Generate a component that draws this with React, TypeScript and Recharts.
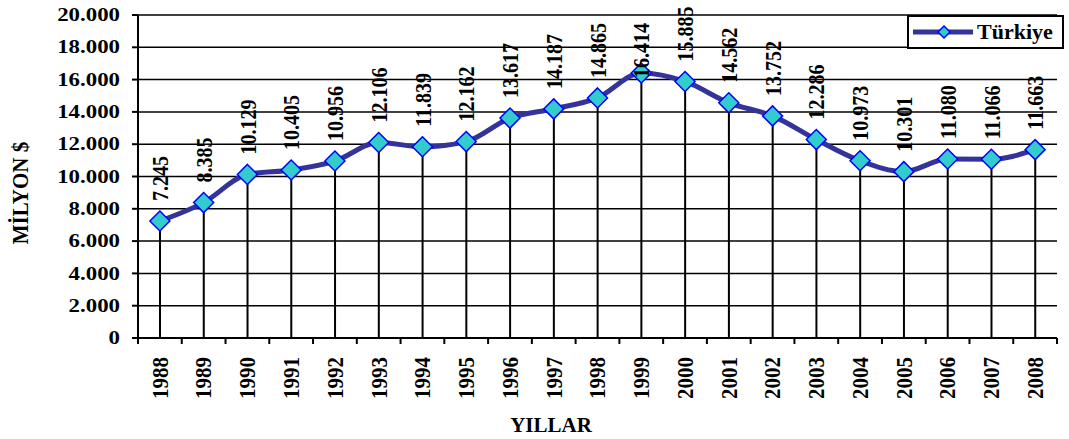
import { ComposedChart, Line, Bar, XAxis, YAxis, CartesianGrid, LabelList } from "recharts";

const years = ["1988", "1989", "1990", "1991", "1992", "1993", "1994", "1995", "1996", "1997", "1998", "1999", "2000", "2001", "2002", "2003", "2004", "2005", "2006", "2007", "2008"];
const turkiye = [7245, 8385, 10129, 10405, 10956, 12106, 11839, 12162, 13617, 14187, 14865, 16414, 15885, 14562, 13752, 12286, 10973, 10301, 11080, 11066, 11663];
const yTicks = [0, 2000, 4000, 6000, 8000, 10000, 12000, 14000, 16000, 18000, 20000];

const data = years.map((year, i) => ({ year, value: turkiye[i] }));

const W = 1069;
const H = 439;
const LEFT = 138;
const RIGHT = 12;
const FONT = "'Liberation Serif', 'Times New Roman', serif";
const NAVY = "#333399";
const BAND = (W - LEFT - RIGHT) / years.length;

const fmt = (v: number) => String(v).replace(/\B(?=(\d{3})+(?!\d))/g, ".");

const Diamond = (props: any) => {
  const { cx, cy } = props;
  if (cx == null || cy == null) return null;
  const r = 10;
  return (
    <polygon
      points={`${cx},${cy - r} ${cx + r},${cy} ${cx},${cy + r} ${cx - r},${cy}`}
      fill="#33CCCC"
      stroke="#0000FF"
      strokeWidth={1.5}
    />
  );
};

// labels that would run off the top are dropped onto the point, like Excel does
const ValueLabel = (props: any) => {
  const { x, y, value } = props;
  const start = y - 20 - 57 < 0 ? y + 5 : y - 20;
  return (
    <text
      transform={`translate(${x},${start}) rotate(-90) scale(1,1.2)`}
      textAnchor="start"
      dominantBaseline="central"
      fontFamily={FONT}
      fontWeight="bold"
      fontSize={20}
      fill="#000"
    >
      {fmt(value)}
    </text>
  );
};

const XTick = (props: any) => {
  const { x, y, payload, index } = props;
  const isLast = index === years.length - 1;
  return (
    <g>
      <line x1={x - BAND / 2} y1={y} x2={x - BAND / 2} y2={y + 6} stroke="#000" strokeWidth={2} />
      {isLast && <line x1={x + BAND / 2} y1={y} x2={x + BAND / 2} y2={y + 6} stroke="#000" strokeWidth={2} />}
      <text
        transform={`translate(${x},${y + 19}) rotate(-90) scale(1,1.1)`}
        textAnchor="end"
        dominantBaseline="central"
        fontFamily={FONT}
        fontWeight="bold"
        fontSize={21}
        fill="#000"
      >
        {payload.value}
      </text>
    </g>
  );
};

const YTick = (props: any) => {
  const { x, y, payload } = props;
  return (
    <text
      transform={`translate(${x},${y}) scale(1.27,1)`}
      textAnchor="end"
      dominantBaseline="central"
      fontFamily={FONT}
      fontWeight="bold"
      fontSize={18}
      fill="#000"
    >
      {fmt(payload.value)}
    </text>
  );
};

const LegendBox = () => (
  <div
    style={{
      position: "absolute",
      left: 907,
      top: 15,
      width: 153,
      height: 30,
      border: "2px solid #000",
      background: "#fff",
      display: "flex",
      alignItems: "center",
    }}
  >
    <svg width={68} height={30}>
      <line x1={4} y1={15} x2={64} y2={15} stroke={NAVY} strokeWidth={5} />
      <polygon points="35,9 41,15 35,21 29,15" fill="#33CCCC" stroke="#0000FF" strokeWidth={1.5} />
    </svg>
    <span style={{ fontFamily: FONT, fontWeight: "bold", fontSize: 22, lineHeight: "30px", color: "#000" }}>Türkiye</span>
  </div>
);

export default function App() {
  return (
    <div style={{ position: "absolute", left: 0, top: 0, width: W, height: H, background: "#fff" }}>
      <ComposedChart width={W} height={H} data={data} margin={{ top: 15, right: RIGHT, left: 0, bottom: 0 }}>
        <CartesianGrid vertical={false} stroke="#000" strokeWidth={1.5} />
        <XAxis
          dataKey="year"
          height={101}
          axisLine={{ stroke: "#000", strokeWidth: 2 }}
          tickLine={false}
          tickSize={0}
          tickMargin={0}
          interval={0}
          tick={<XTick />}
        />
        <YAxis
          width={LEFT}
          domain={[0, 20000]}
          ticks={yTicks}
          interval={0}
          axisLine={{ stroke: "#000", strokeWidth: 2 }}
          tickLine={{ stroke: "#000", strokeWidth: 2 }}
          tickSize={6}
          tickMargin={12}
          tick={<YTick />}
        />
        <Bar dataKey="value" barSize={2} fill="#000" isAnimationActive={false} legendType="none" />
        <Line
          dataKey="value"
          type="monotone"
          stroke={NAVY}
          strokeWidth={5}
          dot={<Diamond />}
          activeDot={false}
          isAnimationActive={false}
        >
          <LabelList dataKey="value" content={<ValueLabel />} />
        </Line>
        <text
          transform="translate(20,193) rotate(-90) scale(1,1.1)"
          textAnchor="middle"
          dominantBaseline="central"
          fontFamily={FONT}
          fontWeight="bold"
          fontSize={21}
          fill="#000"
        >
          MİLYON $
        </text>
        <text x={551} y={432} textAnchor="middle" fontFamily={FONT} fontWeight="bold" fontSize={21} fill="#000">
          YILLAR
        </text>
      </ComposedChart>
      <LegendBox />
    </div>
  );
}
